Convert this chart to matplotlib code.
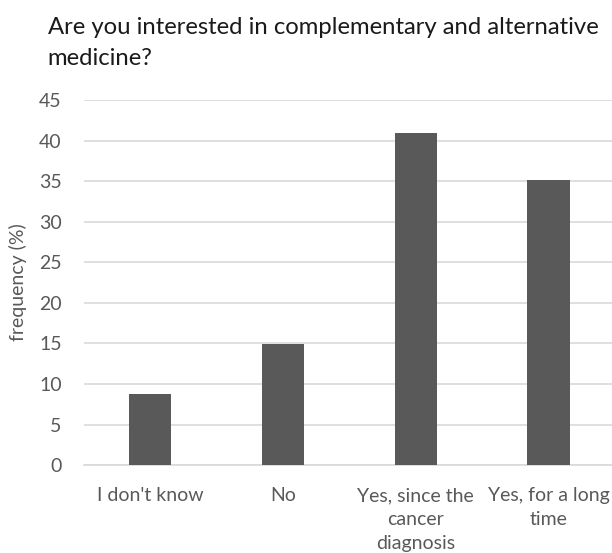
import numpy as np
import matplotlib.pyplot as plt

plt.rcParams['font.family'] = ['Lato', 'DejaVu Sans']

categories = ["I don't know", "No", "Yes, since the\ncancer\ndiagnosis", "Yes, for a long\ntime"]
frequency = [8.8, 14.9, 40.9, 35.2]
y_ticks = [0, 5, 10, 15, 20, 25, 30, 35, 40, 45]

grey_text = '#595959'

fig = plt.figure(figsize=(6.12, 5.53), dpi=100)
ax = fig.add_axes([0.137, 0.159, 0.868, 0.66])

x = np.arange(len(categories))
ax.bar(x, frequency, width=0.32, color='#595959', zorder=3)

ax.set_xlim(-0.5, len(categories) - 0.5)
ax.set_ylim(0, 45)
ax.set_yticks(y_ticks)
ax.set_xticks(x)
ax.set_xticklabels(categories, fontsize=14, color=grey_text, linespacing=1.5)
ax.tick_params(axis='y', labelsize=14, labelcolor=grey_text, length=0, pad=16)
ax.tick_params(axis='x', length=0, pad=16)
ax.yaxis.grid(True, color='#d9d9d9', linewidth=1.2, zorder=0)
for side in ['top', 'right', 'left']:
    ax.spines[side].set_visible(False)
ax.spines['bottom'].set_color('#d9d9d9')
ax.spines['bottom'].set_linewidth(1.2)

ax.set_ylabel('frequency (%)', fontsize=14, color=grey_text)
ax.yaxis.set_label_coords(-0.107, 0.5)

fig.text(0.078, 0.97, 'Are you interested in complementary and alternative\nmedicine?',
         fontsize=17.2, color='#1a1a1a', ha='left', va='top', linespacing=1.6)

fig.savefig('out.png', dpi=100)
